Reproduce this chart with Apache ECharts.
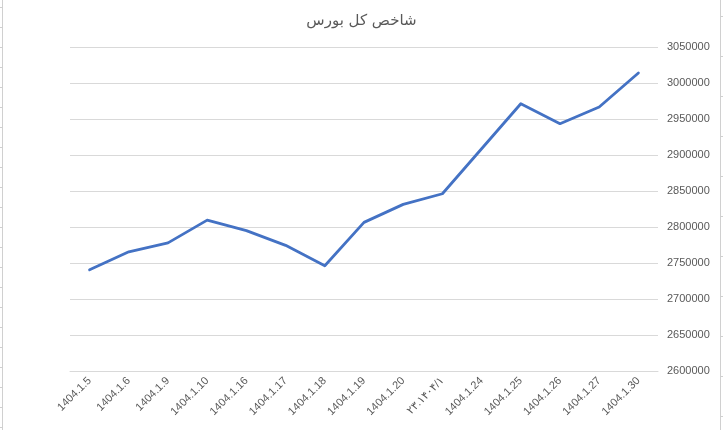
<!DOCTYPE html>
<html>
<head>
<meta charset="utf-8">
<script src="https://cdn.jsdelivr.net/npm/echarts@6/dist/echarts.min.js"></script>
<style>
  html, body { margin: 0; padding: 0; background: #fff; }
  #chart { width: 723px; height: 430px; }
</style>
</head>
<body>
<div id="chart"></div>
<script>
// dates on the x axis (one label is stored in Persian digits in the sheet)
const dates = [
    '1404.1.5', '1404.1.6', '1404.1.9', '1404.1.10', '1404.1.16',
    '1404.1.17', '1404.1.18', '1404.1.19', '1404.1.20', '۲۳.۱۴۰۴/۱',
    '1404.1.24', '1404.1.25', '1404.1.26', '1404.1.27', '1404.1.30'
];
// total index values
const indexValues = [
    2740500, 2765500, 2778000, 2809500, 2795000,
    2774500, 2746200, 2806400, 2831400, 2846200,
    2908700, 2971200, 2943500, 2966700, 3013900
];
const yMin = 2600000;
const yMax = 3050000;
const yStep = 50000;

const textColor = '#595959';
const gridColor = '#d9d9d9';

// sheet cell borders peeking in at the edges
const edgeMarks = [];
edgeMarks.push({ type: 'line', shape: { x1: 2.5, y1: 0, x2: 2.5, y2: 430 }, style: { stroke: '#d0d0d0', lineWidth: 1 } });
edgeMarks.push({ type: 'line', shape: { x1: 720.5, y1: 0, x2: 720.5, y2: 430 }, style: { stroke: '#d0d0d0', lineWidth: 1 } });
for (let y = 7; y < 430; y += 20) {
    edgeMarks.push({ type: 'line', shape: { x1: 0, y1: y + 0.5, x2: 2, y2: y + 0.5 }, style: { stroke: '#d0d0d0', lineWidth: 1 } });
}
for (let y = 16; y < 430; y += 40) {
    edgeMarks.push({ type: 'line', shape: { x1: 721, y1: y + 0.5, x2: 723, y2: y + 0.5 }, style: { stroke: '#d0d0d0', lineWidth: 1 } });
}

const chart = echarts.init(document.getElementById('chart'), null, { renderer: 'canvas' });
chart.setOption({
    animation: false,
    backgroundColor: '#ffffff',
    title: {
        text: 'شاخص کل بورس',
        left: 'center',
        top: 9,
        textStyle: {
            color: textColor,
            fontSize: 15,
            fontWeight: 'normal',
            fontFamily: '"DejaVu Sans", sans-serif'
        }
    },
    grid: {
        left: 70,
        right: 65,
        top: 47,
        bottom: 59,
        containLabel: false
    },
    xAxis: {
        type: 'category',
        data: dates,
        boundaryGap: true,
        axisLine: { show: true, lineStyle: { color: gridColor, width: 1 } },
        axisTick: { show: false },
        axisLabel: {
            rotate: 45,
            interval: 0,
            margin: 8,
            color: textColor,
            fontSize: 11,
            fontFamily: '"Liberation Sans", "DejaVu Sans", sans-serif'
        }
    },
    yAxis: {
        type: 'value',
        position: 'right',
        min: yMin,
        max: yMax,
        interval: yStep,
        axisLine: { show: false },
        axisTick: { show: false },
        splitLine: { lineStyle: { color: gridColor, width: 1 } },
        axisLabel: {
            margin: 9,
            color: textColor,
            fontSize: 11,
            fontFamily: '"Liberation Sans", sans-serif',
            formatter: v => String(v)
        }
    },
    series: [{
        name: 'شاخص کل بورس',
        type: 'line',
        data: indexValues,
        symbol: 'none',
        lineStyle: { color: '#4472C4', width: 2.8, cap: 'round', join: 'round' }
    }],
    graphic: edgeMarks
});
</script>
</body>
</html>
